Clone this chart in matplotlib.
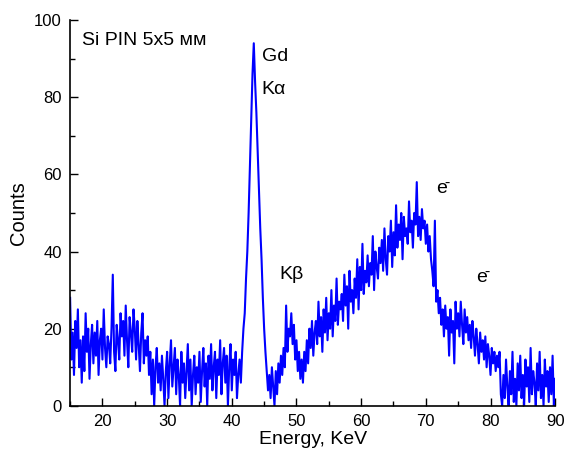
import numpy as np
import matplotlib
matplotlib.use("Agg")
import matplotlib.pyplot as plt
from matplotlib.ticker import MultipleLocator

plt.rcParams['font.family'] = ['Liberation Sans', 'DejaVu Sans']

# Spectrum: channel grid (keV) and counts
energy_start = 15.0
energy_step = 0.2
counts = [
    28, 12, 19, 8, 22, 15, 25, 10, 17, 6,      # 15-17
    18, 9, 24, 14, 20, 7, 16, 21, 11, 19,      # 17-19
    13, 22, 8, 17, 20, 12, 25, 15, 10, 18,     # 19-21
    16, 11, 20, 34, 14, 9, 21, 17, 12, 24,     # 21-23
    18, 22, 13, 26, 17, 10, 23, 19, 14, 25,    # 23-25
    20, 12, 22, 16, 9, 19, 24, 11, 17, 13,     # 25-27
    18, 8, 14, 3, 12, 0, 10, 15, 6, 11,        # 27-29
    4, 13, 7, 0, 9, 14, 2, 11, 17, 5,          # 29-31
    10, 15, 3, 12, 8, 0, 14, 6, 11, 2,         # 31-33
    9, 16, 4, 12, 0, 8, 13, 3, 10, 6,          # 33-35
    14, 1, 9, 15, 5, 11, 0, 13, 7, 16,         # 35-37
    4, 10, 14, 2, 12, 8, 17, 3, 11, 15,        # 37-39
    6, 13, 0, 10, 16, 4, 12, 8, 14, 2,         # 39-41
    8, 12, 6, 14, 20, 24, 33, 40, 50, 62,      # 41-43
    74, 86, 94, 84, 76, 66, 56, 46, 38, 28,    # 43-45
    20, 14, 9, 4, 8, 2, 10, 5, 0, 9,           # 45-47
    3, 11, 6, 13, 8, 15, 10, 26, 14, 20,       # 47-49
    18, 24, 16, 21, 12, 17, 9, 14, 7, 12,      # 49-51
    6, 14, 9, 17, 11, 20, 15, 22, 13, 19,      # 51-53
    22, 16, 27, 18, 23, 14, 25, 19, 28, 17,    # 53-55
    24, 20, 30, 18, 26, 22, 33, 21, 27, 25,    # 55-57
    29, 22, 34, 26, 31, 20, 35, 27, 30, 24,    # 57-59
    33, 28, 38, 25, 36, 30, 42, 29, 35, 32,    # 59-61
    39, 31, 37, 34, 44, 30, 40, 36, 33, 41,    # 61-63
    37, 43, 35, 46, 38, 34, 44, 40, 48, 36,    # 63-65
    45, 39, 52, 41, 47, 43, 50, 38, 49, 44,    # 65-67
    46, 42, 53, 45, 48, 41, 50, 47, 58, 44,    # 67-69
    49, 43, 51, 46, 48, 42, 47, 40, 44, 38,    # 69-71
    35, 31, 48, 27, 30, 24, 28, 21, 25, 18,    # 71-73
    26, 20, 23, 13, 25, 19, 22, 11, 27, 20,    # 73-75
    24, 18, 27, 21, 16, 25, 19, 23, 17, 21,    # 75-77
    15, 22, 18, 13, 20, 16, 11, 19, 14, 17,    # 77-79
    12, 18, 10, 16, 13, 8, 15, 11, 14, 9,      # 79-81
    13, 10, 14, 3, 0, 8, 2, 12, 5, 0,          # 81-83
    9, 3, 14, 1, 7, 0, 11, 4, 13, 2,           # 83-85
    8, 0, 12, 5, 10, 1, 15, 3, 9, 6,           # 85-87
    0, 11, 4, 14, 2, 8, 0, 12, 5, 9,           # 87-89
    1, 10, 3, 13, 0, 7,                        # 89-90
]
energy = energy_start + energy_step * np.arange(len(counts))

x_ticks = [20, 30, 40, 50, 60, 70, 80, 90]
y_ticks = [0, 20, 40, 60, 80, 100]

fig = plt.figure(figsize=(5.70, 4.57), dpi=100)
ax = fig.add_axes([0.123, 0.112, 0.851, 0.844])
ax.plot(energy, counts, color='#0000ff', lw=1.5)

ax.set_xlim(15, 90)
ax.set_ylim(0, 100)
ax.set_xticks(x_ticks)
ax.set_yticks(y_ticks)
ax.xaxis.set_minor_locator(MultipleLocator(5))
ax.yaxis.set_minor_locator(MultipleLocator(10))
ax.tick_params(which='major', direction='in', length=6, width=1, labelsize=12, colors='black')
ax.tick_params(which='minor', direction='in', length=3.5, width=1)
ax.tick_params(axis='x', pad=6)
ax.tick_params(axis='y', pad=6)
for s in ['top', 'right']:
    ax.spines[s].set_visible(False)
for s in ['left', 'bottom']:
    ax.spines[s].set_linewidth(1.2)

ax.set_xlabel('Energy, KeV', fontsize=14, labelpad=1)
ax.set_ylabel('Counts', fontsize=14.5, labelpad=4)

ax.text(16.8, 97, 'Si PIN 5x5 мм', fontsize=14, va='top', ha='left')
ax.text(44.6, 90.5, 'Gd', fontsize=14, va='center', ha='left')
ax.text(44.6, 82, 'K\u03b1', fontsize=14, va='center', ha='left')
ax.text(47.3, 34, 'K\u03b2', fontsize=14, va='center', ha='left')
ax.text(71.5, 56, 'e$^{\\bar{}}$', fontsize=14, va='center', ha='left')
ax.text(77.8, 33, 'e$^{\\bar{}}$', fontsize=14, va='center', ha='left')

fig.savefig('out.png', dpi=100)
